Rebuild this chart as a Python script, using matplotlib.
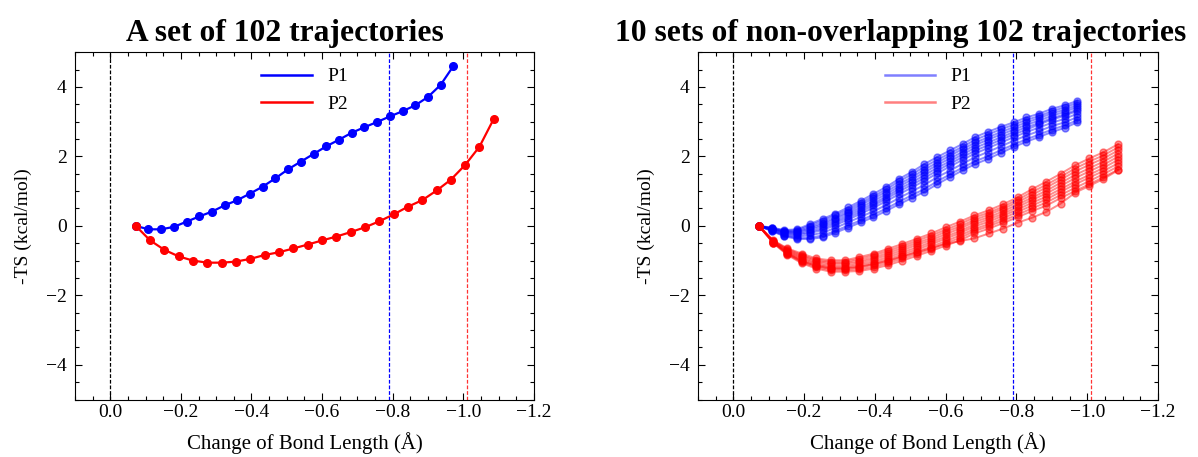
import numpy as np
import matplotlib
matplotlib.use("Agg")
import matplotlib.pyplot as plt
from matplotlib.ticker import MultipleLocator
from matplotlib.lines import Line2D

plt.rcParams['font.family'] = ['Liberation Serif', 'DejaVu Serif']

# x positions (change of bond length, angstrom)
x_p1 = [-0.072, -0.108, -0.144, -0.180, -0.216, -0.252, -0.288, -0.324, -0.360,
        -0.396, -0.432, -0.468, -0.504, -0.540, -0.576, -0.612, -0.648, -0.684,
        -0.720, -0.756, -0.792, -0.828, -0.864, -0.900, -0.936, -0.972]
x_p2 = [-0.072, -0.113, -0.153, -0.194, -0.234, -0.275, -0.316, -0.356, -0.397,
        -0.437, -0.478, -0.519, -0.559, -0.600, -0.640, -0.681, -0.722, -0.762,
        -0.803, -0.843, -0.884, -0.925, -0.965, -1.006, -1.046, -1.087]

# single set of 102 trajectories
p1_single = [0.0, -0.10, -0.10, -0.03, 0.12, 0.27, 0.41, 0.59, 0.74, 0.93, 1.13,
             1.37, 1.63, 1.85, 2.07, 2.29, 2.48, 2.68, 2.84, 2.99, 3.15, 3.30,
             3.47, 3.71, 4.06, 4.60]
p2_single = [0.0, -0.42, -0.69, -0.88, -1.00, -1.06, -1.06, -1.03, -0.95, -0.84,
             -0.76, -0.65, -0.54, -0.42, -0.31, -0.18, -0.04, 0.13, 0.33, 0.55,
             0.74, 1.02, 1.33, 1.76, 2.28, 3.09]

# 10 non-overlapping sets
p1_sets = [
    [0, -0.05, -0.12, -0.10, 0.05, 0.20, 0.35, 0.53, 0.72, 0.92, 1.12, 1.35, 1.55, 1.78, 1.98, 2.17, 2.36, 2.56, 2.71, 2.85, 2.98, 3.12, 3.23, 3.37, 3.47, 3.60],
    [0, -0.06, -0.14, -0.13, 0.01, 0.15, 0.30, 0.47, 0.66, 0.85, 1.05, 1.28, 1.48, 1.70, 1.90, 2.09, 2.28, 2.48, 2.63, 2.78, 2.91, 3.05, 3.16, 3.30, 3.41, 3.54],
    [0, -0.07, -0.16, -0.16, -0.04, 0.09, 0.24, 0.41, 0.60, 0.79, 0.98, 1.20, 1.40, 1.62, 1.82, 2.02, 2.21, 2.40, 2.55, 2.70, 2.84, 2.98, 3.10, 3.24, 3.34, 3.48],
    [0, -0.08, -0.17, -0.18, -0.08, 0.04, 0.19, 0.36, 0.53, 0.72, 0.91, 1.13, 1.33, 1.54, 1.75, 1.94, 2.13, 2.33, 2.48, 2.63, 2.77, 2.91, 3.03, 3.17, 3.28, 3.42],
    [0, -0.09, -0.19, -0.21, -0.12, -0.01, 0.13, 0.30, 0.47, 0.65, 0.84, 1.06, 1.25, 1.46, 1.67, 1.86, 2.06, 2.25, 2.40, 2.55, 2.70, 2.84, 2.96, 3.10, 3.21, 3.35],
    [0, -0.10, -0.21, -0.24, -0.17, -0.07, 0.08, 0.24, 0.41, 0.59, 0.78, 0.99, 1.18, 1.38, 1.59, 1.79, 1.98, 2.17, 2.32, 2.48, 2.63, 2.77, 2.92, 3.06, 3.17, 3.31],
    [0, -0.11, -0.23, -0.27, -0.21, -0.12, 0.02, 0.18, 0.35, 0.52, 0.71, 0.91, 1.10, 1.30, 1.51, 1.71, 1.90, 2.09, 2.24, 2.40, 2.55, 2.70, 2.83, 2.97, 3.08, 3.23],
    [0, -0.13, -0.26, -0.31, -0.27, -0.20, -0.06, 0.10, 0.26, 0.42, 0.60, 0.80, 0.99, 1.18, 1.40, 1.59, 1.79, 1.98, 2.13, 2.29, 2.45, 2.60, 2.73, 2.87, 2.98, 3.13],
    [0, -0.14, -0.28, -0.35, -0.34, -0.28, -0.15, 0.01, 0.16, 0.32, 0.50, 0.69, 0.88, 1.06, 1.28, 1.48, 1.68, 1.86, 2.01, 2.18, 2.34, 2.49, 2.63, 2.77, 2.89, 3.04],
    [0, -0.15, -0.30, -0.38, -0.38, -0.33, -0.20, -0.05, 0.10, 0.25, 0.43, 0.62, 0.80, 0.98, 1.20, 1.40, 1.60, 1.78, 1.93, 2.10, 2.27, 2.42, 2.56, 2.70, 2.82, 2.98],
]
p2_sets = [
    [0, -0.42, -0.65, -0.80, -0.94, -0.99, -0.99, -0.90, -0.80, -0.66, -0.52, -0.37, -0.22, -0.04, 0.12, 0.30, 0.45, 0.62, 0.82, 1.05, 1.27, 1.50, 1.74, 1.94, 2.12, 2.35],
    [0, -0.43, -0.67, -0.84, -0.98, -1.03, -1.03, -0.95, -0.85, -0.72, -0.58, -0.43, -0.28, -0.11, 0.05, 0.24, 0.38, 0.55, 0.75, 0.97, 1.18, 1.41, 1.65, 1.85, 2.03, 2.26],
    [0, -0.44, -0.70, -0.87, -1.01, -1.07, -1.07, -1.00, -0.91, -0.78, -0.64, -0.49, -0.35, -0.17, -0.02, 0.17, 0.32, 0.49, 0.68, 0.89, 1.10, 1.33, 1.56, 1.76, 1.94, 2.17],
    [0, -0.45, -0.72, -0.91, -1.05, -1.11, -1.11, -1.05, -0.96, -0.84, -0.70, -0.55, -0.41, -0.24, -0.08, 0.11, 0.25, 0.42, 0.61, 0.81, 1.01, 1.24, 1.46, 1.66, 1.85, 2.08],
    [0, -0.46, -0.75, -0.94, -1.09, -1.16, -1.16, -1.10, -1.02, -0.90, -0.76, -0.62, -0.47, -0.31, -0.15, 0.04, 0.19, 0.35, 0.54, 0.74, 0.93, 1.15, 1.37, 1.57, 1.76, 1.99],
    [0, -0.47, -0.77, -0.98, -1.12, -1.20, -1.20, -1.15, -1.07, -0.96, -0.82, -0.68, -0.53, -0.37, -0.21, -0.02, 0.12, 0.29, 0.47, 0.66, 0.84, 1.06, 1.27, 1.47, 1.67, 1.90],
    [0, -0.48, -0.79, -1.01, -1.16, -1.24, -1.24, -1.20, -1.12, -1.02, -0.88, -0.74, -0.60, -0.44, -0.28, -0.09, 0.05, 0.22, 0.40, 0.58, 0.76, 0.98, 1.19, 1.39, 1.58, 1.80],
    [0, -0.49, -0.82, -1.05, -1.19, -1.28, -1.28, -1.25, -1.18, -1.07, -0.94, -0.80, -0.66, -0.50, -0.35, -0.15, -0.01, 0.15, 0.32, 0.50, 0.67, 0.89, 1.09, 1.29, 1.49, 1.71],
    [0, -0.50, -0.84, -1.08, -1.23, -1.32, -1.32, -1.30, -1.23, -1.13, -1.00, -0.86, -0.72, -0.57, -0.42, -0.22, -0.08, 0.08, 0.25, 0.42, 0.58, 0.80, 1.00, 1.20, 1.40, 1.62],
    [0, -0.48, -0.80, -1.02, -1.15, -1.22, -1.22, -1.18, -1.10, -1.00, -0.88, -0.76, -0.64, -0.52, -0.44, -0.36, -0.22, -0.08, 0.09, 0.23, 0.40, 0.64, 0.95, 1.15, 1.35, 1.60],
]

# reference lines
x_ref = [0.0, -0.79, -1.01]
ref_colors = ['black', 'blue', 'red']

titles = ['A set of 102 trajectories', '10 sets of non-overlapping 102 trajectories']
title_x = [0.457, 0.441]

fig = plt.figure(figsize=(11.98, 4.57), dpi=100)
ax1 = fig.add_axes([0.0626, 0.1258, 0.383, 0.760])
ax2 = fig.add_axes([0.5826, 0.1258, 0.384, 0.760])

ax1.plot(x_p1, p1_single, '-o', color='blue', lw=1.6, ms=5.5)
ax1.plot(x_p2, p2_single, '-o', color='red', lw=1.6, ms=5.5)

for k in range(len(p1_sets)):
    ax2.plot(x_p1, p1_sets[k], '-o', color='blue', lw=1.4, ms=5, alpha=0.45)
for k in range(len(p2_sets)):
    ax2.plot(x_p2, p2_sets[k], '-o', color='red', lw=1.4, ms=5, alpha=0.45)

handle_alpha = [1.0, 0.5]
for ax, title, tx, ha in zip([ax1, ax2], titles, title_x, handle_alpha):
    for xv, c in zip(x_ref, ref_colors):
        ax.axvline(xv, color=c, ls='--', lw=0.9, dashes=(3, 1.5),
                   alpha=0.8 if c == 'red' else 1.0, zorder=0)
    ax.set_xlim(0.1, -1.2)
    ax.set_ylim(-5, 5)
    ax.xaxis.set_major_locator(MultipleLocator(0.2))
    ax.xaxis.set_minor_locator(MultipleLocator(0.05))
    ax.yaxis.set_major_locator(MultipleLocator(2))
    ax.yaxis.set_minor_locator(MultipleLocator(0.5))
    ax.tick_params(which='both', direction='in', top=True, right=True, labelsize=14)
    ax.tick_params(axis='y', pad=6)
    ax.tick_params(which='major', length=5, width=0.8)
    ax.tick_params(which='minor', length=2.8, width=0.8)
    ax.set_xlabel('Change of Bond Length (Å)', fontsize=15, labelpad=8)
    ax.set_ylabel('-TS (kcal/mol)', fontsize=14, labelpad=10)
    ax.set_title(title, fontsize=22.7, fontweight='bold', pad=8, x=tx)
    handles = [Line2D([], [], color='blue', lw=1.8, alpha=ha),
               Line2D([], [], color='red', lw=1.8, alpha=ha)]
    ax.legend(handles, ['P1', 'P2'], loc='upper center', frameon=False,
              fontsize=14, handlelength=2.6, borderaxespad=0.4)

fig.savefig('out.png', dpi=100)
